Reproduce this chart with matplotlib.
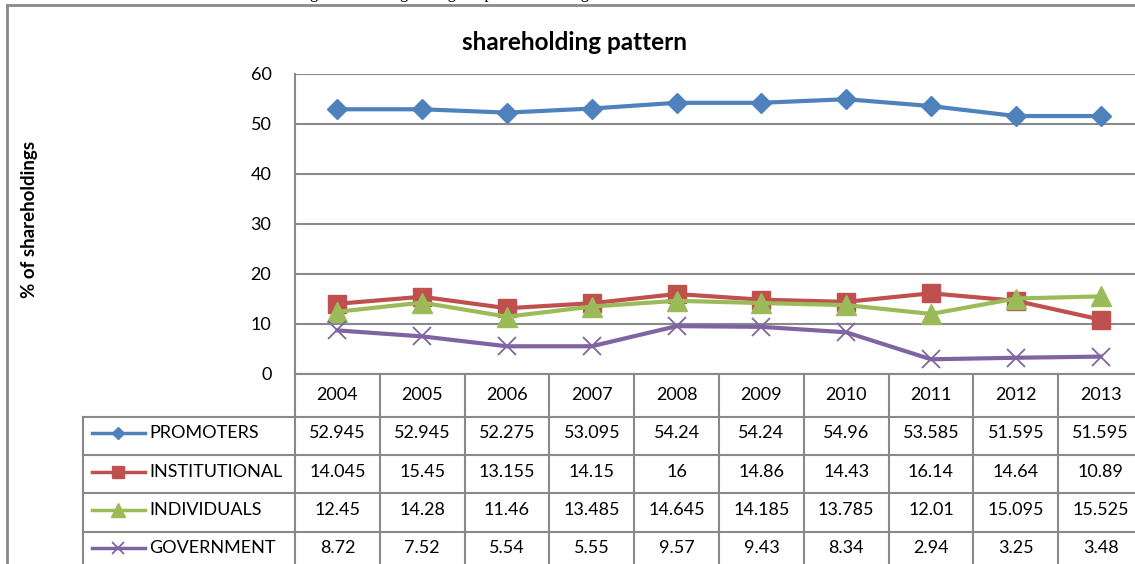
import matplotlib
matplotlib.use('Agg')
import matplotlib.pyplot as plt
import matplotlib.transforms as mtransforms
from matplotlib.lines import Line2D

years = ['2004', '2005', '2006', '2007', '2008', '2009', '2010', '2011', '2012', '2013']
series_names = ['PROMOTERS', 'INSTITUTIONAL', 'INDIVIDUALS', 'GOVERNMENT']
promoters = [52.945, 52.945, 52.275, 53.095, 54.24, 54.24, 54.96, 53.585, 51.595, 51.595]
institutional = [14.045, 15.45, 13.155, 14.15, 16, 14.86, 14.43, 16.14, 14.64, 10.89]
individuals = [12.45, 14.28, 11.46, 13.485, 14.645, 14.185, 13.785, 12.01, 15.095, 15.525]
government = [8.72, 7.52, 5.54, 5.55, 9.57, 9.43, 8.34, 2.94, 3.25, 3.48]
y_ticks = [0, 10, 20, 30, 40, 50, 60]

W, H = 1135, 564
GRID = '#898989'
FONT = 'Lato'


def fx(px):
    return px / W


def fy(px):
    return 1 - px / H


styles = [
    dict(color='#4F81BD', marker='D', mew=1, big=10, small=6.5),
    dict(color='#C0504D', marker='s', mew=1, big=13, small=8.5),
    dict(color='#9BBB59', marker='^', mew=1, big=15, small=10),
    dict(color='#8064A2', marker='x', mew=1.3, big=13, small=9),
]
data = [promoters, institutional, individuals, government]

fig = plt.figure(figsize=(W / 100, H / 100), dpi=100)
fig.patch.set_facecolor('white')

# caption of the page above the chart, mostly cut off by the top edge
fig.text(fx(262), fy(-2.5), 'showing shareholding during the period of change',
         family='Liberation Serif', fontsize=12, va='baseline', ha='left')

# outer chart frame
fig.add_artist(Line2D([fx(7), fx(W + 5)], [fy(5), fy(5)], color='#8a8a8a', lw=2))
fig.add_artist(Line2D([fx(7), fx(7)], [fy(5), fy(H + 5)], color='#8a8a8a', lw=2))

ax = fig.add_axes([fx(295), fy(374), 848 / W, 300 / H])
ax.set_xlim(-0.5, len(years) - 0.5)
ax.set_ylim(0, 60)
ax.set_yticks(y_ticks)
ax.set_yticklabels([str(t) for t in y_ticks], family=FONT, fontsize=13)
ax.set_xticks([])
ax.tick_params(axis='y', length=0, pad=17)
ax.grid(axis='y', color=GRID, lw=1.5)
ax.set_axisbelow(True)
for side in ['top', 'right']:
    ax.spines[side].set_visible(False)
for side in ['left', 'bottom']:
    ax.spines[side].set_color(GRID)
    ax.spines[side].set_linewidth(1.5)

x = list(range(len(years)))
for vals, st in zip(data, styles):
    ax.plot(x, vals, color=st['color'], lw=3, marker=st['marker'], ms=st['big'],
            mfc=st['color'], mec=st['color'], mew=st['mew'], clip_on=False, zorder=3)

fig.text(fx(30), fy(219), '% of shareholdings', rotation=90, family=FONT, fontweight='bold',
         fontsize=13.5, ha='center', va='center')
fig.text(fx(574), fy(42), 'shareholding pattern', family=FONT, fontweight='bold',
         fontsize=17.5, ha='center', va='center')

# data table
bt = mtransforms.blended_transform_factory(ax.transData, fig.transFigure)
row_lines = [417, 455, 493, 532]
row_centers = [433, 472, 510, 548]
for k in range(len(years) + 1):
    fig.add_artist(Line2D([k - 0.5, k - 0.5], [fy(374), fy(H + 5)], transform=bt, color=GRID, lw=1.5))
fig.add_artist(Line2D([fx(83), fx(83)], [fy(417), fy(H + 5)], color=GRID, lw=1.5))
for yl in row_lines:
    fig.add_artist(Line2D([fx(83), fx(W + 10)], [fy(yl), fy(yl)], color=GRID, lw=1.5))

for i, yr in enumerate(years):
    fig.text(i, fy(395), yr, transform=bt, family=FONT, fontsize=13, ha='center', va='center')

for name, vals, st, yc in zip(series_names, data, styles, row_centers):
    fig.add_artist(Line2D([fx(92), fx(145)], [fy(yc), fy(yc)], color=st['color'], lw=2.5))
    fig.add_artist(Line2D([fx(118)], [fy(yc)], color=st['color'], marker=st['marker'], ms=st['small'],
                          mfc=st['color'], mec=st['color'], mew=st['mew']))
    fig.text(fx(149), fy(yc), name, family=FONT, fontsize=13, ha='left', va='center')
    for i, v in enumerate(vals):
        fig.text(i, fy(yc), f'{v:g}', transform=bt, family=FONT, fontsize=13, ha='center', va='center')

fig.savefig('out.png', dpi=100)
